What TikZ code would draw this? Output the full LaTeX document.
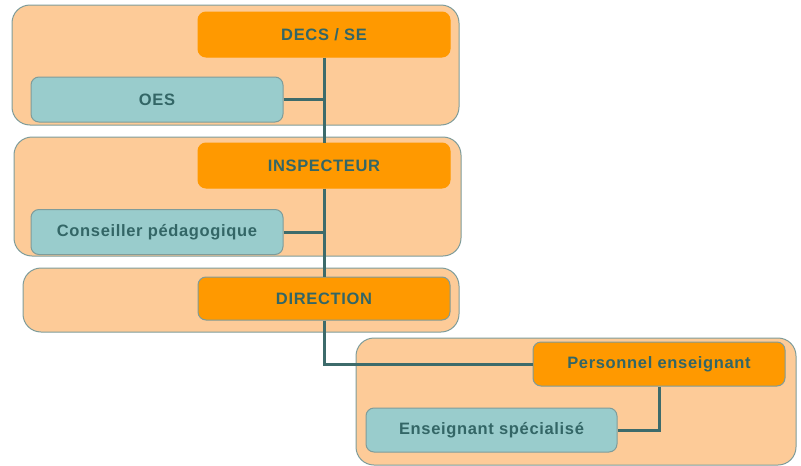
\documentclass[tikz,border=0pt]{standalone}
\usepackage{fontspec}
\setmainfont{Liberation Sans}
\newfontfamily\boxfont[LetterSpace=4]{Liberation Sans}
\definecolor{grpfill}{HTML}{FDCB98}
\definecolor{grpdraw}{HTML}{7F9C9A}
\definecolor{orangebox}{HTML}{FF9900}
\definecolor{tealbox}{HTML}{99CCCC}
\definecolor{txtcol}{HTML}{336666}
\definecolor{linecol}{HTML}{3D6B6B}
\begin{document}
\begin{tikzpicture}[x=1pt,y=-1pt,
  grp/.style={fill=grpfill,draw=grpdraw,line width=1pt,rounded corners=18pt},
  box/.style={minimum width=252pt,minimum height=45pt,rounded corners=8pt,inner sep=0pt,
    font=\boxfont\fontsize{16.5}{19}\selectfont\bfseries,text=txtcol,line width=1pt},
  obox/.style={box,fill=orangebox,draw=grpdraw},
  oboxplain/.style={box,fill=orangebox,draw=orangebox},
  tbox/.style={box,fill=tealbox,draw=grpdraw},
  conn/.style={draw=linecol,line width=3pt}]
\useasboundingbox (0,0) rectangle (801,466);
\fill[white] (0,0) rectangle (801,466);
\draw[grp] (12,5) rectangle (459,125);
\draw[grp] (14,137) rectangle (461,256);
\draw[grp] (23,268) rectangle (459,332);
\draw[grp] (356,338) rectangle (796,465);
\node[oboxplain] (decs) at (324,34.5) {DECS / SE};
\node[tbox] (oes) at (157,99.5) {OES};
\node[oboxplain] (insp) at (324,165.5) {INSPECTEUR};
\node[tbox] (cons) at (157,232) {Conseiller pédagogique};
\node[obox,minimum height=43pt] (dir) at (324,298.5) {DIRECTION};
\node[obox,minimum height=44pt] (pers) at (659,364) {Personnel enseignant};
\node[tbox,minimum height=44pt,minimum width=251pt] (ens) at (491.5,430) {Enseignant spécialisé};
\draw[conn] (decs.south) -- (insp.north);
\draw[conn] (insp.south) -- (dir.north);
\draw[conn] (oes.east) -- (oes.east -| decs.south);
\draw[conn] (cons.east) -- (cons.east -| insp.south);
\draw[conn] (dir.south) |- (pers.west);
\draw[conn] (pers.south) |- (ens.east);
\end{tikzpicture}
\end{document}
